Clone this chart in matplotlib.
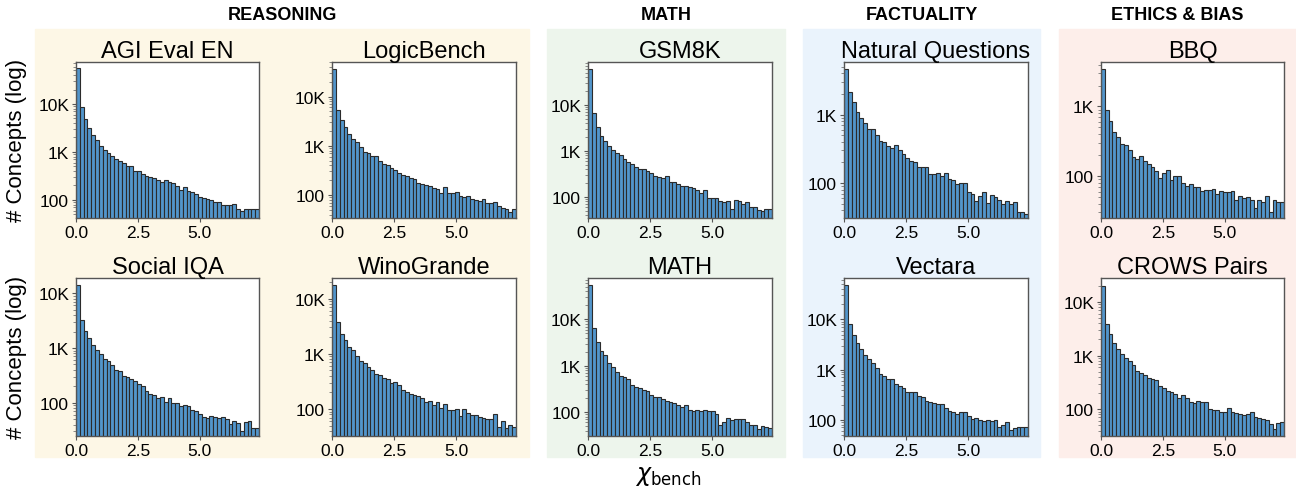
import numpy as np
import matplotlib
matplotlib.use("Agg")
import matplotlib.pyplot as plt
from matplotlib.ticker import FuncFormatter, LogLocator, NullFormatter
from matplotlib.patches import Rectangle

plt.rcParams['font.family'] = ['Liberation Sans', 'DejaVu Sans']

# histogram counts per benchmark, 48 bins over chi_bench in [0, 7.4]
agi_eval = [56000, 8500, 4900, 3200, 2300, 1780, 1300, 1100, 950, 840,
            715, 660, 590, 520, 500, 410, 410, 345, 320, 300,
            283, 265, 233, 256, 233, 222, 199, 160, 184, 156,
            149, 133, 114, 110, 105, 100, 92, 89, 80, 80,
            78, 82, 65, 60, 65, 65, 65, 65]
logicbench = [37000, 5400, 3300, 2350, 1750, 1340, 1190, 960, 760, 720,
              620, 620, 500, 420, 405, 360, 320, 285, 260, 240,
              225, 215, 175, 165, 160, 150, 140, 130, 112, 148,
              112, 108, 115, 95, 92, 95, 84, 79, 76, 82,
              70, 70, 73, 60, 55, 51, 45, 51]
gsm8k = [60000, 6500, 3300, 2100, 1600, 1250, 1050, 900, 800, 680,
         560, 510, 450, 400, 400, 370, 330, 280, 275, 255,
         280, 215, 215, 195, 170, 175, 165, 160, 145, 120,
         145, 93, 93, 95, 80, 78, 80, 55, 85, 80,
         70, 77, 60, 62, 52, 50, 55, 55]
natural_q = [4600, 2100, 1500, 1100, 880, 760, 620, 620, 500, 410,
             400, 350, 330, 360, 300, 270, 230, 210, 200, 170,
             170, 170, 135, 135, 140, 125, 140, 115, 110, 97,
             99, 99, 75, 70, 55, 65, 75, 52, 67, 62,
             57, 50, 55, 50, 53, 38, 38, 36]
bbq = [3450, 880, 610, 430, 370, 290, 280, 240, 189, 177,
       197, 164, 147, 136, 118, 95, 110, 122, 88, 100,
       100, 80, 72, 78, 70, 70, 61, 63, 64, 66,
       55, 61, 60, 60, 61, 46, 52, 49, 50, 45,
       35, 45, 43, 52, 30, 46, 42, 43]
social_iqa = [14200, 3300, 2040, 1500, 1150, 910, 790, 640, 580, 480,
              390, 375, 310, 295, 270, 250, 217, 200, 162, 146,
              140, 121, 130, 105, 121, 98, 101, 88, 92, 86,
              75, 70, 63, 56, 52, 57, 56, 52, 56, 51,
              41, 46, 42, 30, 44, 46, 35, 34]
winogrande = [17400, 3800, 2300, 1770, 1350, 1160, 920, 740, 690, 590,
              515, 430, 410, 360, 350, 295, 315, 275, 225, 200,
              190, 182, 170, 158, 134, 142, 120, 134, 104, 126,
              97, 97, 101, 74, 101, 84, 79, 77, 71, 68,
              67, 66, 82, 48, 60, 46, 51, 47]
math_ds = [54000, 6500, 3200, 2050, 1670, 1160, 940, 750, 600, 570,
           520, 390, 350, 330, 300, 280, 230, 210, 215, 190,
           178, 163, 160, 140, 128, 145, 110, 105, 110, 105,
           110, 105, 105, 92, 54, 60, 75, 67, 70, 70,
           72, 62, 52, 52, 44, 51, 48, 46]
vectara = [48000, 8200, 4900, 3400, 2600, 1950, 1640, 1360, 1060, 820,
           760, 650, 650, 520, 480, 420, 350, 350, 360, 300,
           280, 240, 230, 220, 210, 210, 170, 150, 140, 130,
           140, 140, 120, 103, 106, 100, 95, 100, 95, 100,
           71, 77, 88, 62, 68, 71, 73, 73]
crows = [20000, 3900, 2560, 1720, 1350, 1090, 900, 780, 660, 510,
         480, 430, 385, 365, 345, 270, 250, 215, 210, 195,
         163, 180, 160, 138, 128, 142, 138, 138, 100, 96,
         96, 88, 88, 105, 90, 84, 80, 78, 80, 88,
         70, 68, 66, 63, 52, 42, 55, 58]

titles = ["AGI Eval EN", "LogicBench", "GSM8K", "Natural Questions", "BBQ",
          "Social IQA", "WinoGrande", "MATH", "Vectara", "CROWS Pairs"]
series = [agi_eval, logicbench, gsm8k, natural_q, bbq,
          social_iqa, winogrande, math_ds, vectara, crows]
ylims = [(42, 76000), (34, 51000), (35, 86000), (31, 5900), (25, 4400),
         (25, 19000), (33, 23600), (31, 78000), (48, 67000), (32, 28000)]
groups = ["REASONING", "MATH", "FACTUALITY", "ETHICS & BIAS"]

x_max = 7.4
edges = np.linspace(0, x_max, len(agi_eval) + 1)

W, H = 1296, 489
fig = plt.figure(figsize=(W / 100, H / 100), dpi=100)

# coloured group backgrounds (pixel coords)
bg = [(35, 529, '#fdf7e6'), (547, 785, '#edf5ec'),
      (803, 1040, '#eaf3fc'), (1059, 1296, '#fdeeea')]
for (x0, x1, c), name in zip(bg, groups):
    fig.patches.append(Rectangle((x0 / W, 1 - 458 / H), (x1 - x0) / W, (458 - 30) / H,
                                 transform=fig.transFigure, color=c, zorder=-5))
    fig.text((x0 + x1) / 2 / W, 1 - 16 / H, name, ha='center', va='center',
             fontsize=13, fontweight='bold')

cols = [(76, 259), (332, 516), (588, 772), (844, 1028), (1101, 1284)]
rows = [(62.7, 219), (279, 436.7)]

def kfmt(v, pos):
    if v >= 1000:
        return f"{int(round(v / 1000))}K"
    return f"{int(round(v))}"

for i, (name, vals) in enumerate(zip(titles, series)):
    r, c = divmod(i, 5)
    l, rr = cols[c]
    t, b = rows[r]
    ax = fig.add_axes([l / W, 1 - b / H, (rr - l) / W, (b - t) / H], zorder=2)
    ax.bar(edges[:-1], vals, width=np.diff(edges), align='edge',
           color='#5295cb', edgecolor='#2b2b2b', linewidth=0.8)
    ax.set_yscale('log')
    ax.set_xlim(0, x_max)
    ax.set_ylim(*ylims[i])
    ax.set_xticks([0, 2.5, 5.0])
    ax.xaxis.set_major_formatter(FuncFormatter(lambda v, p: f"{v:.1f}"))
    ax.yaxis.set_major_locator(LogLocator(base=10))
    ax.yaxis.set_major_formatter(FuncFormatter(kfmt))
    ax.yaxis.set_minor_locator(LogLocator(base=10, subs=np.arange(2, 10)))
    ax.yaxis.set_minor_formatter(NullFormatter())
    ax.tick_params(axis='both', which='major', labelsize=12.5, length=3,
                   width=0.8, color='#555555', pad=2)
    ax.tick_params(axis='y', which='minor', length=2, width=0.6, color='#777777')
    for s in ax.spines.values():
        s.set_color('#555555')
        s.set_linewidth(1.0)
    ax.set_title(name, fontsize=17, pad=3)

for t, b in rows:
    fig.text(17 / W, 1 - (t + b) / 2 / H, "# Concepts (log)", rotation=90,
             ha='center', va='center', fontsize=16)

fig.text(668 / W, 1 - 477 / H, r'$\chi_{\mathrm{bench}}$', ha='center',
         va='center', fontsize=17)

fig.savefig("out.png", dpi=100)
